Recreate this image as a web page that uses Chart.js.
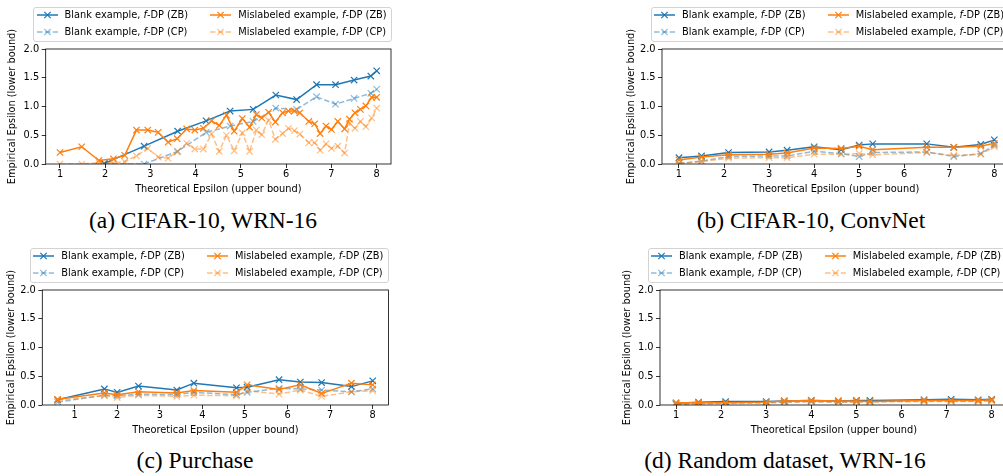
<!DOCTYPE html>
<html>
<head>
<meta charset="utf-8">
<script src="https://cdn.jsdelivr.net/npm/chart.js@4.4.0/dist/chart.umd.min.js"></script>
<style>
html, body { margin: 0; padding: 0; background: #fff; }
body { width: 1003px; height: 476px; position: relative; overflow: hidden; font-family: "DejaVu Sans", sans-serif; }
canvas { position: absolute; }
.legend { position: absolute; width: 359px; height: 35px; box-sizing: border-box; border: 1px solid #d3d3d3; border-radius: 3px; background: rgba(255,255,255,0.8); font-size: 9.8px; color: #000; }
.item { position: absolute; height: 14px; line-height: 14px; white-space: nowrap; }
.item svg { position: absolute; left: 0; top: 0; }
.item span { position: absolute; left: 28px; top: 0; }
.caption { position: absolute; font-family: "Liberation Serif", "Times New Roman", serif; font-size: 23.5px; line-height: 1; color: #000; white-space: nowrap; transform: translateX(-50%); }
</style>
</head>
<body>
<canvas id="chartA"></canvas>
<canvas id="chartB"></canvas>
<canvas id="chartC"></canvas>
<canvas id="chartD"></canvas>
<div class="caption" style="left:203px; top:208.5px">(a) CIFAR-10, WRN-16</div>
<div class="caption" style="left:811px; top:208.5px">(b) CIFAR-10, ConvNet</div>
<div class="caption" style="left:195px; top:449px">(c) Purchase</div>
<div class="caption" style="left:785px; top:449px">(d) Random dataset, WRN-16</div>
<script>
// DATOS ------------------------------------------------
const legendNames = ['Blank example', 'Blank example', 'Mislabeled example', 'Mislabeled example'];
const legendTags = ['ZB', 'CP', 'ZB', 'CP'];
const xTicks = [1, 2, 3, 4, 5, 6, 7, 8];
const yTicks = [0, 0.5, 1.0, 1.5, 2.0];

// (a) CIFAR-10, WRN-16
const aBlankX = [1.98, 2.86, 3.60, 4.23, 4.76, 5.27, 5.77, 6.23, 6.67, 7.09, 7.50, 7.87, 8.00];
const aBlankZB = [0.01, 0.31, 0.57, 0.75, 0.92, 0.95, 1.20, 1.12, 1.38, 1.38, 1.46, 1.53, 1.62];
const aBlankCP = [0.00, 0.00, 0.22, 0.55, 0.66, 0.74, 0.97, 0.95, 1.17, 1.04, 1.14, 1.23, 1.30];
const aMisX = [1.00, 1.48, 1.86, 2.18, 2.43, 2.69, 2.94, 3.17, 3.39, 3.59,
               3.80, 3.98, 4.17, 4.35, 4.52, 4.68, 4.85, 5.03, 5.19, 5.34,
               5.46, 5.61, 5.76, 5.92, 6.05, 6.18, 6.30, 6.50, 6.63, 6.75,
               6.88, 7.00, 7.14, 7.29, 7.40, 7.52, 7.64, 7.76, 7.89, 8.00];
const aMisZB = [0.20, 0.30, 0.06, 0.09, 0.15, 0.59, 0.59, 0.55, 0.38, 0.44,
                0.61, 0.59, 0.62, 0.75, 0.67, 0.85, 0.57, 0.79, 0.64, 0.86,
                0.80, 0.90, 0.73, 0.89, 0.92, 0.92, 0.89, 0.74, 0.70, 0.53,
                0.66, 0.60, 0.74, 0.61, 0.78, 0.89, 0.95, 1.01, 1.16, 1.16];
const aMisCP = [0.00, 0.00, 0.02, 0.02, 0.04, 0.14, 0.27, 0.12, 0.10, 0.21,
                0.36, 0.26, 0.26, 0.52, 0.22, 0.50, 0.23, 0.54, 0.22, 0.59,
                0.51, 0.76, 0.43, 0.53, 0.62, 0.58, 0.52, 0.37, 0.37, 0.24,
                0.35, 0.27, 0.31, 0.19, 0.71, 0.62, 0.74, 0.65, 0.80, 0.97];

// (b) CIFAR-10, ConvNet
const bX = [1.0, 1.5, 2.1, 3.0, 3.4, 4.0, 4.6, 5.0, 5.3, 6.5, 7.1, 7.7, 8.0];
const bBlankZB = [0.11, 0.14, 0.20, 0.21, 0.24, 0.30, 0.25, 0.33, 0.35, 0.35, 0.29, 0.34, 0.42];
const bBlankCP = [0.01, 0.05, 0.13, 0.14, 0.14, 0.22, 0.18, 0.13, 0.20, 0.21, 0.13, 0.18, 0.33];
const bMisZB = [0.07, 0.12, 0.16, 0.17, 0.19, 0.28, 0.27, 0.31, 0.25, 0.29, 0.29, 0.31, 0.36];
const bMisCP = [0.01, 0.04, 0.10, 0.11, 0.11, 0.17, 0.17, 0.18, 0.16, 0.20, 0.15, 0.17, 0.30];

// (c) Purchase
const cX = [0.6, 1.7, 2.0, 2.5, 3.4, 3.8, 4.8, 5.05, 5.8, 6.3, 6.8, 7.5, 8.0];
const cBlankZB = [0.09, 0.28, 0.22, 0.33, 0.26, 0.38, 0.30, 0.31, 0.44, 0.40, 0.39, 0.32, 0.42];
const cBlankCP = [0.05, 0.17, 0.16, 0.19, 0.18, 0.22, 0.18, 0.22, 0.29, 0.28, 0.26, 0.23, 0.28];
const cMisZB = [0.10, 0.21, 0.18, 0.23, 0.21, 0.25, 0.22, 0.35, 0.27, 0.35, 0.20, 0.38, 0.35];
const cMisCP = [0.08, 0.16, 0.13, 0.17, 0.15, 0.17, 0.16, 0.25, 0.19, 0.26, 0.15, 0.23, 0.25];

// (d) Random dataset, WRN-16
const dX = [1.0, 1.5, 2.1, 3.0, 3.4, 4.0, 4.6, 5.0, 5.3, 6.5, 7.1, 7.7, 8.0];
const dBlankZB = [0.03, 0.05, 0.06, 0.06, 0.07, 0.08, 0.07, 0.08, 0.08, 0.09, 0.10, 0.09, 0.10];
const dBlankCP = [0.01, 0.03, 0.04, 0.04, 0.05, 0.06, 0.05, 0.06, 0.06, 0.07, 0.07, 0.07, 0.08];
const dMisZB = [0.04, 0.04, 0.04, 0.05, 0.07, 0.08, 0.07, 0.07, 0.06, 0.08, 0.08, 0.08, 0.09];
const dMisCP = [0.01, 0.02, 0.03, 0.04, 0.05, 0.06, 0.05, 0.05, 0.05, 0.06, 0.06, 0.06, 0.07];
// ------------------------------------------------------

const colores = ['#1f77b4', 'rgba(31,119,180,0.5)', '#ff7f0e', 'rgba(255,127,14,0.5)'];
const rayas = [[], [5.5, 2.4], [], [5.5, 2.4]];
const fuente = { family: 'DejaVu Sans', size: 9.8 };
const margenSup = 34;

const marco = {
    id: 'marco',
    afterDatasetsDraw(chart) {
        const { ctx, chartArea: a } = chart;
        ctx.save();
        ctx.strokeStyle = '#000';
        ctx.lineWidth = 0.8;
        ctx.strokeRect(a.left, a.top, a.right - a.left, a.bottom - a.top);
        ctx.restore();
    }
};

const serie = (i, xs, ys) => ({
    data: xs.map((x, k) => ({ x: x, y: ys[k] })),
    borderColor: colores[i],
    backgroundColor: colores[i],
    borderWidth: 1.5,
    borderDash: rayas[i],
    pointStyle: 'crossRot',
    pointRadius: 4.5,
    pointBorderColor: colores[i],
    pointBorderWidth: 1.2,
    fill: false,
    tension: 0
});

const panel = (id, p, blankX, misX, series) => {
    const cv = document.getElementById(id);
    const cLeft = Math.round(p.ylab - 8);
    const cTop = p.T - margenSup;
    const w = Math.round(p.R - cLeft + 10);
    const h = p.B - p.T + margenSup + 32;
    cv.width = w; cv.height = h;
    cv.style.left = cLeft + 'px'; cv.style.top = cTop + 'px';
    cv.style.width = w + 'px'; cv.style.height = h + 'px';
    const xs = [blankX, blankX, misX, misX];
    // orden de dibujo como en matplotlib: el ultimo queda encima
    const datasets = [3, 2, 1, 0].map(i => serie(i, xs[i], series[i]));
    new Chart(cv, {
        type: 'line',
        data: { datasets: datasets },
        options: {
            responsive: false,
            animation: false,
            events: [],
            layout: { padding: { left: 0, top: margenSup, right: w - (p.R - cLeft), bottom: 0 } },
            plugins: { legend: { display: false }, tooltip: { enabled: false } },
            scales: {
                x: {
                    type: 'linear', min: p.xmin, max: p.xmax,
                    afterFit: s => { s.height = 32; },
                    afterBuildTicks: s => { s.ticks = xTicks.map(v => ({ value: v })); },
                    grid: { display: true, drawOnChartArea: false, drawTicks: true, tickLength: 4, color: '#000', lineWidth: 0.8 },
                    border: { display: false },
                    ticks: { color: '#000', font: fuente, padding: 1, maxRotation: 0, callback: v => String(v) },
                    title: { display: true, text: 'Theoretical Epsilon (upper bound)', color: '#000', font: fuente, padding: { top: 0, bottom: 1 } }
                },
                y: {
                    type: 'linear', min: 0, max: 2,
                    afterFit: s => { s.width = p.L - cLeft; },
                    afterBuildTicks: s => { s.ticks = yTicks.map(v => ({ value: v })); },
                    grid: { display: true, drawOnChartArea: false, drawTicks: true, tickLength: 4, color: '#000', lineWidth: 0.8 },
                    border: { display: false },
                    ticks: { color: '#000', font: fuente, padding: 2.5, callback: v => v.toFixed(1) },
                    title: { display: true, text: 'Empirical Epsilon (lower bound)', color: '#000', font: fuente, padding: { top: 2, bottom: 0 } }
                }
            }
        },
        plugins: [marco]
    });
};

const leyenda = (left, top) => {
    const box = document.createElement('div');
    box.className = 'legend';
    box.style.left = left + 'px';
    box.style.top = top + 'px';
    const pos = [[2.3, 0], [2.3, 16.6], [176, 0], [176, 16.6]];
    legendNames.forEach((nombre, i) => {
        const it = document.createElement('div');
        it.className = 'item';
        it.style.left = pos[i][0] + 'px';
        it.style.top = pos[i][1] + 'px';
        const dash = rayas[i].length ? ' stroke-dasharray="5.5 2.4"' : '';
        it.innerHTML = '<svg width="21" height="14"><line x1="0" y1="7" x2="21" y2="7" stroke="' + colores[i] + '" stroke-width="1.5"' + dash + '/>' +
            '<path d="M7.3 3.8 L13.7 10.2 M7.3 10.2 L13.7 3.8" stroke="' + colores[i] + '" stroke-width="1.2"/></svg>' +
            '<span>' + nombre + ', <i>f</i>-DP (' + legendTags[i] + ')</span>';
        box.appendChild(it);
    });
    document.body.appendChild(box);
};

panel('chartA', { L: 45.7, R: 391, T: 49, B: 164, xmin: 0.684, xmax: 8.316, ylab: 13 },
      aBlankX, aMisX, [aBlankZB, aBlankCP, aMisZB, aMisCP]);
panel('chartB', { L: 662, R: 1010, T: 49, B: 164, xmin: 0.623, xmax: 8.348, ylab: 631.7 },
      bX, bX, [bBlankZB, bBlankCP, bMisZB, bMisCP]);
panel('chartC', { L: 42.3, R: 388.5, T: 290, B: 405, xmin: 0.242, xmax: 8.37, ylab: 12.3 },
      cX, cX, [cBlankZB, cBlankCP, cMisZB, cMisCP]);
panel('chartD', { L: 660, R: 1007.7, T: 290, B: 405, xmin: 0.645, xmax: 8.355, ylab: 628 },
      dX, dX, [dBlankZB, dBlankCP, dMisZB, dMisCP]);

leyenda(33.3, 7.3);
leyenda(650.7, 7.3);
leyenda(30, 248.3);
leyenda(647.7, 248.3);
</script>
</body>
</html>
